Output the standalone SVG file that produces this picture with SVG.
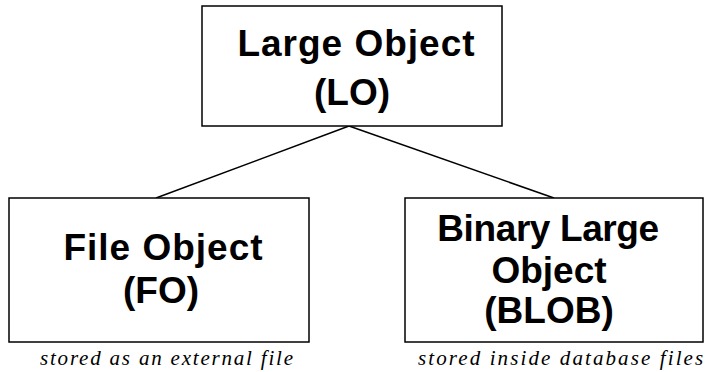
<svg xmlns="http://www.w3.org/2000/svg" width="705" height="372" viewBox="0 0 705 372">
<style>
.box{fill:#fff;stroke:#000;stroke-width:1.5}
.t{font-family:"Liberation Sans",Arial,sans-serif;font-weight:bold;font-size:37px;text-anchor:middle;fill:#000}
.c{font-family:"Liberation Serif","Times New Roman",serif;font-style:italic;font-size:21px;fill:#000;letter-spacing:1.8px}
.ln{stroke:#000;stroke-width:1.5;fill:none}
</style>
<rect width="705" height="372" fill="#fff"/>
<g id="connectors">
<line class="ln" x1="349" y1="126" x2="156" y2="198"/>
<line class="ln" x1="349" y1="126" x2="554" y2="198"/>
</g>
<g id="lo">
<rect class="box" x="202" y="6" width="300" height="120"/>
<text class="t" x="356.5" y="56" style="letter-spacing:1px">Large Object</text>
<text class="t" x="352" y="105">(LO)</text>
</g>
<g id="fo">
<rect class="box" x="9" y="198" width="300" height="144"/>
<text class="t" x="163.5" y="260" style="letter-spacing:1px">File Object</text>
<text class="t" x="161" y="303">(FO)</text>
</g>
<g id="blob">
<rect class="box" x="405" y="198" width="298" height="144"/>
<text class="t" x="548" y="241" style="letter-spacing:-0.4px">Binary Large</text>
<text class="t" x="549" y="283">Object</text>
<text class="t" x="549" y="323">(BLOB)</text>
</g>
<text class="c" x="40" y="365">stored as an external file</text>
<text class="c" x="418" y="365" style="letter-spacing:2.1px">stored inside database files</text>
</svg>
